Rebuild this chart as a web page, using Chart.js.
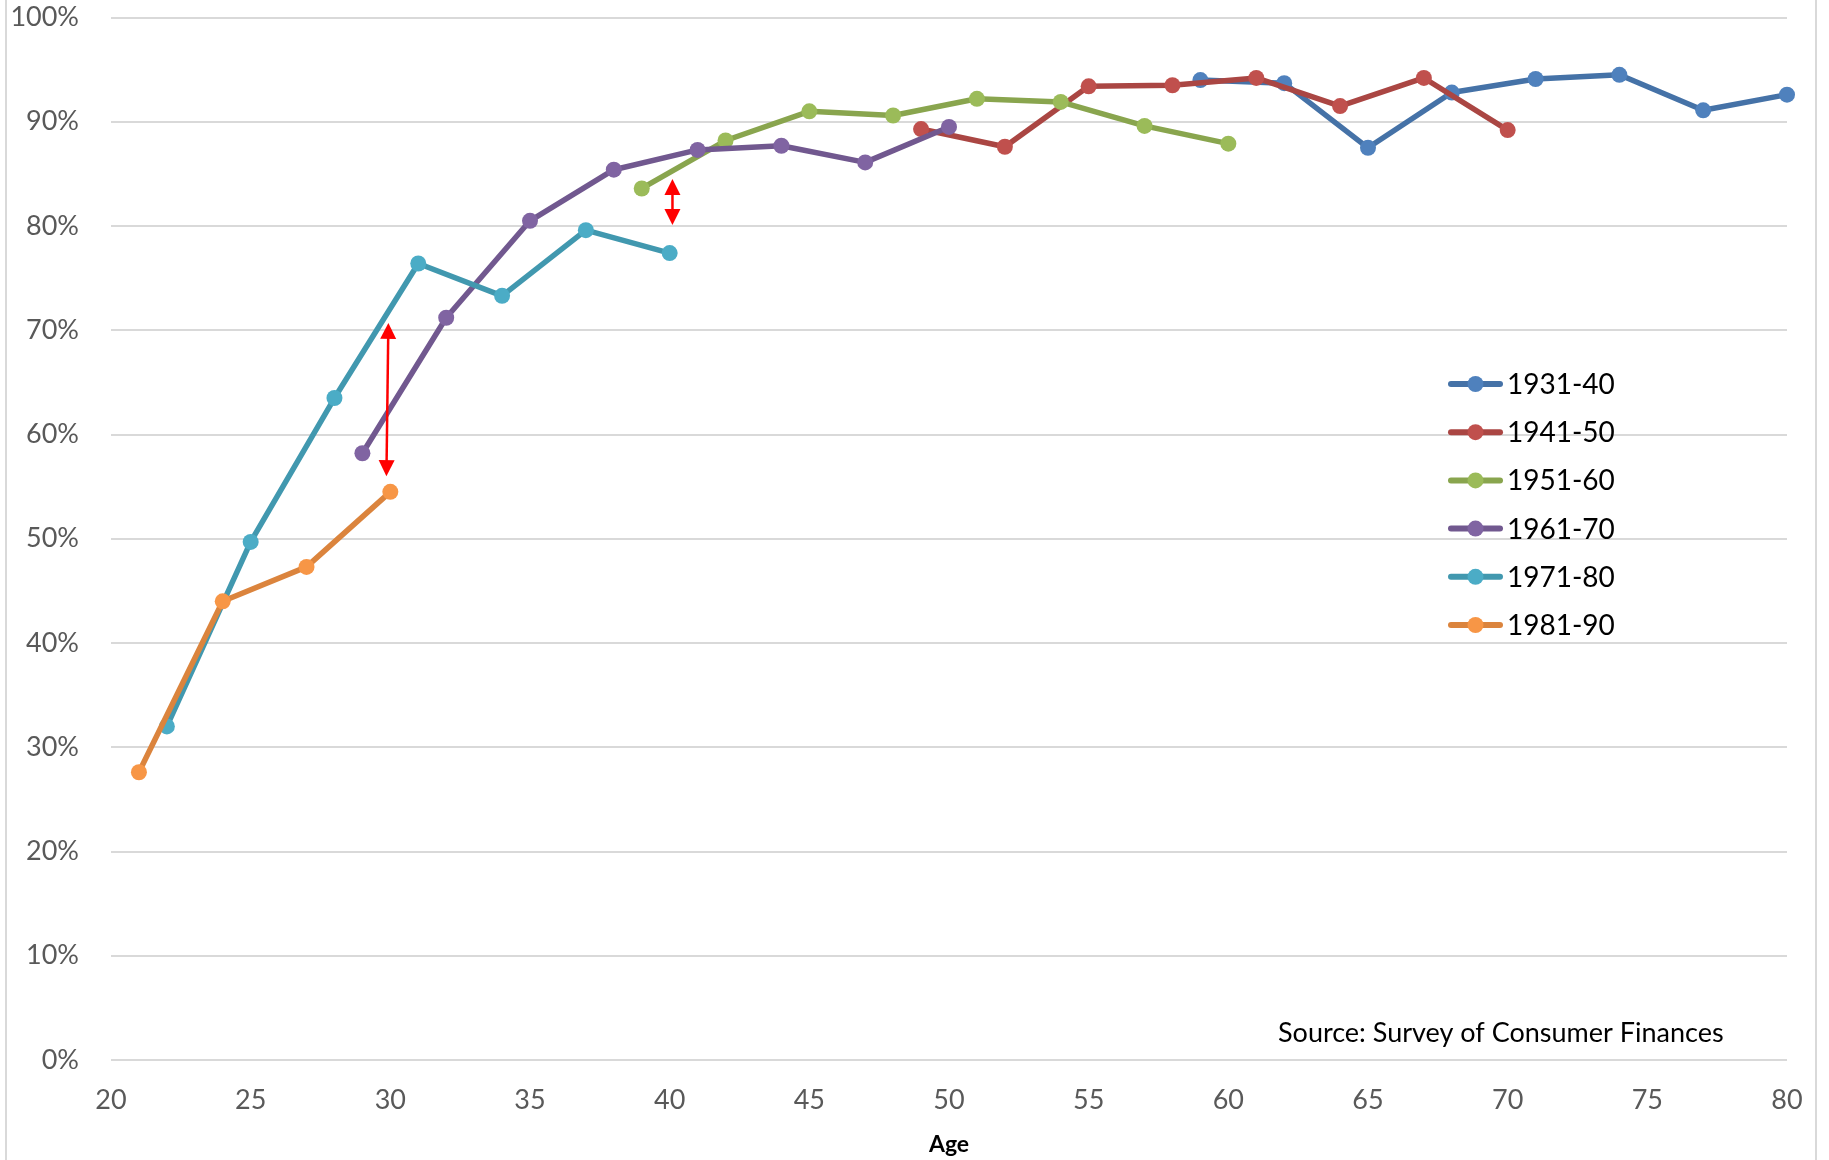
<!DOCTYPE html>
<html>
<head>
<meta charset="utf-8">
<script src="https://cdn.jsdelivr.net/npm/chart.js@4.4.0/dist/chart.umd.min.js"></script>
<style>
  html, body { margin: 0; padding: 0; background: #fff; overflow: hidden; }
  #wrap { position: relative; width: 1829px; height: 1160px; }
</style>
</head>
<body>
<div id="wrap"><canvas id="chart" width="1829" height="1160"></canvas></div>
<script>
// Birth cohorts and the share (%) at each age
const cohortLabels = ['1931-40', '1941-50', '1951-60', '1961-70', '1971-80', '1981-90'];

const ages1931 = [59, 62, 65, 68, 71, 74, 77, 80];
const vals1931 = [94.0, 93.7, 87.5, 92.8, 94.1, 94.5, 91.1, 92.6];

const ages1941 = [49, 52, 55, 58, 61, 64, 67, 70];
const vals1941 = [89.3, 87.6, 93.4, 93.5, 94.2, 91.5, 94.2, 89.2];

const ages1951 = [39, 42, 45, 48, 51, 54, 57, 60];
const vals1951 = [83.6, 88.2, 91.0, 90.6, 92.2, 91.9, 89.6, 87.9];

const ages1961 = [29, 32, 35, 38, 41, 44, 47, 50];
const vals1961 = [58.2, 71.2, 80.5, 85.4, 87.3, 87.7, 86.1, 89.5];

const ages1971 = [22, 25, 28, 31, 34, 37, 40];
const vals1971 = [32.0, 49.7, 63.5, 76.4, 73.3, 79.6, 77.4];

const ages1981 = [21, 24, 27, 30];
const vals1981 = [27.6, 44.0, 47.3, 54.5];

// Gap markers between cohorts at the same age
const arrowAgesTop    = [29.93, 40.1];
const arrowAgesBottom = [29.86, 40.1];
const arrowTop        = [70.7, 84.5];
const arrowBottom     = [56.0, 80.1];

// Axis ticks
const xTickMin = 20, xTickMax = 80, xTickStep = 5;
const yTickMin = 0, yTickMax = 100, yTickStep = 10;

const sourceText = 'Source: Survey of Consumer Finances';
const xAxisTitle = 'Age';

const lineColors   = ['#4572A7', '#AA4643', '#89A54E', '#71588F', '#4198AF', '#DB843D'];
const markerColors = ['#4F81BD', '#C0504D', '#9BBB59', '#8064A2', '#4BACC6', '#F79646'];

const seriesAges = [ages1931, ages1941, ages1951, ages1961, ages1971, ages1981];
const seriesVals = [vals1931, vals1941, vals1951, vals1961, vals1971, vals1981];

const FONT = 'Lato, "Open Sans", sans-serif';

const datasets = cohortLabels.map((label, i) => ({
  label,
  data: seriesAges[i].map((a, j) => ({ x: a, y: seriesVals[i][j] })),
  borderColor: lineColors[i],
  backgroundColor: markerColors[i],
  pointBackgroundColor: markerColors[i],
  pointBorderColor: markerColors[i],
  pointBorderWidth: 0,
  pointRadius: 8,
  borderWidth: 5.5,
  borderJoinStyle: 'round',
  borderCapStyle: 'round',
  tension: 0,
  showLine: true,
  clip: false,
  order: cohortLabels.length - i   // younger cohorts drawn over older ones
}));

const framePlugin = {
  id: 'frame',
  beforeDraw(chart) {
    const ctx = chart.ctx;
    ctx.save();
    ctx.fillStyle = '#fff';
    ctx.fillRect(0, 0, chart.width, chart.height);
    ctx.strokeStyle = '#d9d9d9';
    ctx.lineWidth = 2;
    ctx.beginPath();
    ctx.moveTo(6, 0); ctx.lineTo(6, chart.height);
    ctx.moveTo(1816, 0); ctx.lineTo(1816, chart.height);
    ctx.stroke();
    ctx.restore();
  }
};

const arrowPlugin = {
  id: 'gapArrows',
  afterDatasetsDraw(chart) {
    const ctx = chart.ctx;
    const xs = chart.scales.x, ys = chart.scales.y;
    const head = 16, half = 8;
    ctx.save();
    ctx.strokeStyle = '#FF0000';
    ctx.fillStyle = '#FF0000';
    ctx.lineWidth = 2.5;
    for (let i = 0; i < arrowTop.length; i++) {
      const x1 = xs.getPixelForValue(arrowAgesTop[i]);
      const y1 = ys.getPixelForValue(arrowTop[i]);
      const x2 = xs.getPixelForValue(arrowAgesBottom[i]);
      const y2 = ys.getPixelForValue(arrowBottom[i]);
      const ang = Math.atan2(y2 - y1, x2 - x1);
      const ux = Math.cos(ang), uy = Math.sin(ang);
      const px = -uy, py = ux;
      ctx.beginPath();
      ctx.moveTo(x1 + ux * head * 0.8, y1 + uy * head * 0.8);
      ctx.lineTo(x2 - ux * head * 0.8, y2 - uy * head * 0.8);
      ctx.stroke();
      // head at the top end
      ctx.beginPath();
      ctx.moveTo(x1, y1);
      ctx.lineTo(x1 + ux * head + px * half, y1 + uy * head + py * half);
      ctx.lineTo(x1 + ux * head - px * half, y1 + uy * head - py * half);
      ctx.closePath();
      ctx.fill();
      // head at the bottom end
      ctx.beginPath();
      ctx.moveTo(x2, y2);
      ctx.lineTo(x2 - ux * head + px * half, y2 - uy * head + py * half);
      ctx.lineTo(x2 - ux * head - px * half, y2 - uy * head - py * half);
      ctx.closePath();
      ctx.fill();
    }
    ctx.restore();
  }
};

const legendPlugin = {
  id: 'cohortLegend',
  afterDraw(chart, args, opts) {
    const ctx = chart.ctx;
    ctx.save();
    ctx.font = opts.font;
    ctx.textBaseline = 'middle';
    ctx.textAlign = 'left';
    chart.data.datasets.forEach((ds, i) => {
      const y = opts.top + i * opts.spacing;
      ctx.strokeStyle = ds.borderColor;
      ctx.lineWidth = 6;
      ctx.lineCap = 'round';
      ctx.beginPath();
      ctx.moveTo(opts.lineLeft, y);
      ctx.lineTo(opts.lineRight, y);
      ctx.stroke();
      ctx.fillStyle = ds.pointBackgroundColor;
      ctx.beginPath();
      ctx.arc((opts.lineLeft + opts.lineRight) / 2, y, 8, 0, Math.PI * 2);
      ctx.fill();
      ctx.fillStyle = opts.color;
      ctx.fillText(ds.label, opts.textLeft, y + 1);
    });
    ctx.restore();
  }
};

const sourcePlugin = {
  id: 'sourceNote',
  afterDraw(chart, args, opts) {
    const ctx = chart.ctx;
    ctx.save();
    ctx.font = opts.font;
    ctx.fillStyle = opts.color;
    ctx.textAlign = 'left';
    ctx.textBaseline = 'middle';
    ctx.fillText(sourceText, opts.x, opts.y);
    ctx.restore();
  }
};

new Chart(document.getElementById('chart'), {
  type: 'line',
  data: { datasets },
  plugins: [framePlugin, arrowPlugin, legendPlugin, sourcePlugin],
  options: {
    responsive: false,
    animation: false,
    devicePixelRatio: 1,
    layout: { padding: { left: 0, right: 42, top: 17.5, bottom: 0 } },
    scales: {
      x: {
        type: 'linear',
        min: xTickMin, max: xTickMax,
        ticks: {
          stepSize: xTickStep,
          color: '#595959',
          font: { family: FONT, size: 27 },
          padding: 24
        },
        grid: { display: false, drawTicks: false },
        border: { display: false },
        title: {
          display: true,
          text: xAxisTitle,
          color: '#000',
          font: { family: FONT, size: 23, weight: 'bold' },
          padding: { top: 0, bottom: 2 }
        },
        afterFit(scale) { scale.height = 100; }
      },
      y: {
        min: yTickMin, max: yTickMax,
        ticks: {
          stepSize: yTickStep,
          color: '#595959',
          font: { family: FONT, size: 27 },
          padding: 32,
          callback: v => v + '%'
        },
        grid: { color: '#d9d9d9', lineWidth: 2, drawTicks: false },
        border: { display: false },
        afterFit(scale) {
          scale.width = 111;
          // the label gap is horizontal only; keep it out of the vertical room
          scale.paddingTop = 0;
          scale.paddingBottom = 0;
        }
      }
    },
    plugins: {
      legend: { display: false },
      tooltip: { enabled: false },
      cohortLegend: {
        font: '28px ' + FONT,
        color: '#000',
        top: 384, spacing: 48.2,
        lineLeft: 1451, lineRight: 1500, textLeft: 1507
      },
      sourceNote: {
        font: '27px ' + FONT,
        color: '#000',
        x: 1278, y: 1033
      }
    }
  }
});
</script>
</body>
</html>
